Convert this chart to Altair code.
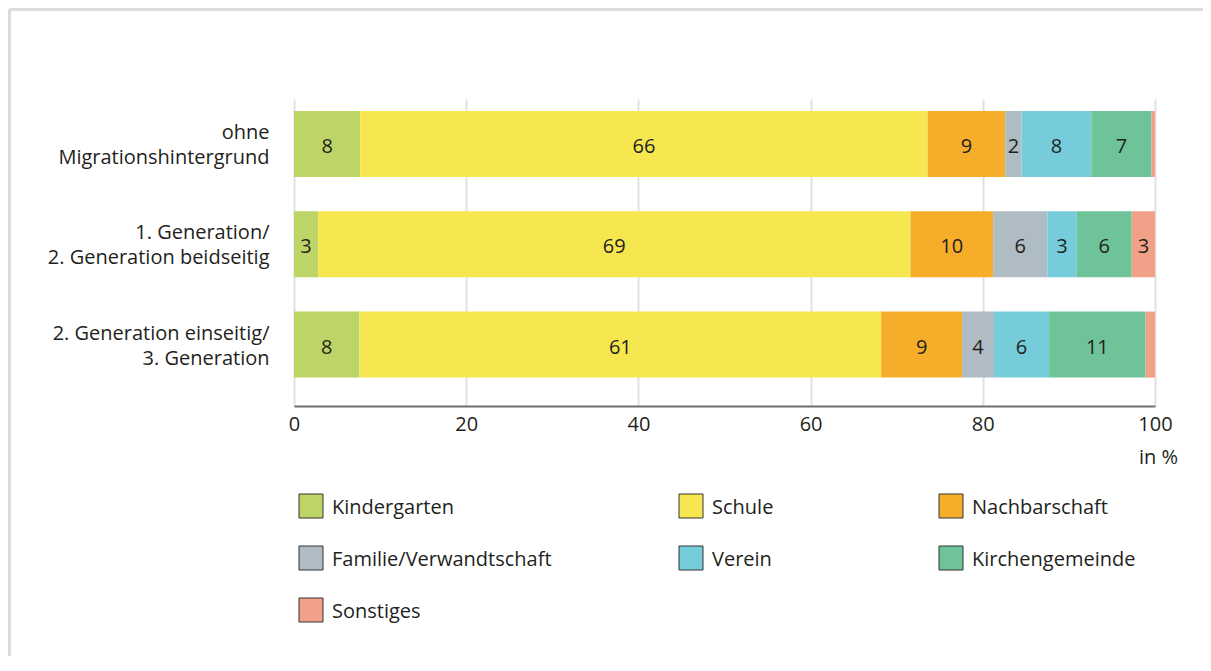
import altair as alt
import pandas as pd

# ---- data ----
groups = [
    "ohne\nMigrationshintergrund",
    "1. Generation/\n2. Generation beidseitig",
    "2. Generation einseitig/\n3. Generation",
]
sources = ["Kindergarten", "Schule", "Nachbarschaft", "Familie/Verwandtschaft",
           "Verein", "Kirchengemeinde", "Sonstiges"]
colors = ["#bdd466", "#f6e751", "#f6ae2a", "#afbcc4", "#76ccdb", "#6fc399", "#f1a187"]

ohne_mh = [7.7, 65.9, 9.0, 1.9, 8.1, 7.0, 0.4]
gen1_beid = [2.8, 68.8, 9.6, 6.3, 3.4, 6.4, 2.7]
gen2_ein = [7.6, 60.6, 9.4, 3.7, 6.4, 11.2, 1.1]

x_ticks = [0, 20, 40, 60, 80, 100]
x_unit = "in %"

FONT = "Open Sans"
TXT = "#231f20"

rows = []
for g, vals in zip(groups, [ohne_mh, gen1_beid, gen2_ein]):
    for i, (s, v) in enumerate(zip(sources, vals)):
        rows.append({"group": g, "source": s, "order": i, "value": v})
df = pd.DataFrame(rows)

legend_df = pd.DataFrame({
    "source": sources,
    "col": [i % 3 for i in range(len(sources))],
    "row": [i // 3 for i in range(len(sources))],
})

color = alt.Color("source:N", scale=alt.Scale(domain=sources, range=colors), legend=None)

base = alt.Chart(df).transform_stack(
    stack="value", groupby=["group"], as_=["x0", "x1"],
    sort=[alt.SortField("order", order="ascending")],
).transform_calculate(mid="(datum.x0 + datum.x1) / 2")

y_enc = alt.Y(
    "group:N", sort=groups,
    scale=alt.Scale(paddingInner=0.342, paddingOuter=0.2014, align=0.297),
    axis=alt.Axis(
        title=None, labelExpr="split(datum.label, '\\n')", labelFontSize=20,
        labelFont=FONT, labelColor=TXT, labelLineHeight=25, labelPadding=25,
        labelOffset=-11,
        ticks=False, domain=False, labelLimit=400, labelAlign="right",
    ),
)

x_scale = alt.Scale(domain=[0, 100], nice=False, zero=True)

bars = base.mark_bar(strokeWidth=0).encode(
    x=alt.X("x0:Q", scale=x_scale, axis=alt.Axis(
        values=x_ticks, grid=True, gridColor="#e2e2e2", gridWidth=2,
        ticks=False, domainColor="#6e6e6e", domainWidth=2,
        labelFontSize=20, labelFont=FONT, labelColor=TXT, labelPadding=8,
        labelFlush=False, title=x_unit, titleFont=FONT, titleFontSize=20,
        titleFontWeight="normal", titleColor=TXT, titleX=864, titleY=57,
        titleAlign="center", titleBaseline="alphabetic", titleAnchor=None,
    )),
    x2="x1:Q",
    y=y_enc,
    color=color,
)

labels = base.transform_filter("datum.value >= 1.5").mark_text(
    font=FONT, fontSize=20, color=TXT, baseline="middle", align="center", dy=3,
).encode(
    x=alt.X("mid:Q", scale=x_scale),
    y=alt.Y("group:N", sort=groups),
    text=alt.Text("value:Q", format=".0f"),
)

inner = alt.layer(bars, labels)

leg_x = alt.X("col:Q", scale=alt.Scale(domain=[0, 1, 2], range=[17, 397, 657], nice=False, zero=False), axis=None)
leg_y = alt.Y("row:Q", scale=alt.Scale(domain=[0, 1, 2], range=[407, 459, 511], nice=False, zero=False), axis=None)

leg_sym = alt.Chart(legend_df).mark_point(
    shape="square", size=576, filled=True, opacity=1, stroke="#333333", strokeWidth=1,
).encode(x=leg_x, y=leg_y, fill=alt.Fill("source:N", scale=alt.Scale(domain=sources, range=colors), legend=None))

leg_txt = alt.Chart(legend_df).mark_text(
    font=FONT, fontSize=20, color=TXT, align="left", baseline="middle", dx=21, dy=2,
).encode(x=leg_x, y=leg_y, text="source:N")

frame_df = pd.DataFrame({"k": [0]})
frame_top = alt.Chart(frame_df).mark_rule(color="#dcdcdc", strokeWidth=3).encode(
    x=alt.value(-284.5), x2=alt.value(915), y=alt.value(-89.5))
frame_left = alt.Chart(frame_df).mark_rule(color="#dcdcdc", strokeWidth=3).encode(
    x=alt.value(-284.5), y=alt.value(-89.5), y2=alt.value(570))

chart = alt.layer(inner, leg_sym, leg_txt, frame_top, frame_left).resolve_scale(
    x="independent", y="independent"
).properties(
    width=861, height=307,
    autosize=alt.AutoSizeParams(type="none"),
    padding={"left": 286, "top": 91, "right": 48, "bottom": 250},
).configure_view(stroke=None)

chart.save("out.html", embed_options={"renderer": "svg", "actions": False})
